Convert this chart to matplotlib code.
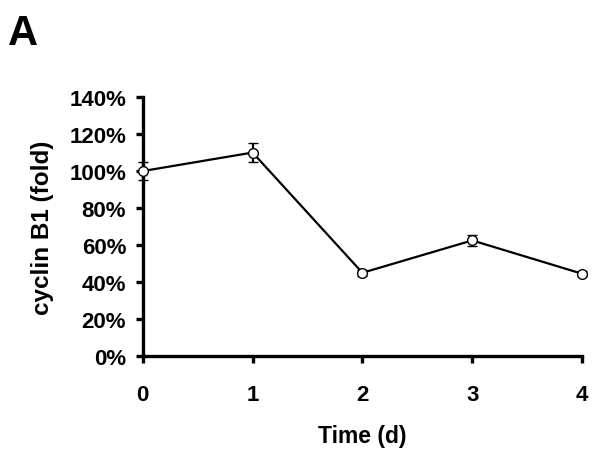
import matplotlib
matplotlib.use("Agg")
import matplotlib.pyplot as plt
from matplotlib.ticker import FuncFormatter

days = [0, 1, 2, 3, 4]
cyclin_b1 = [100, 110, 45, 62.5, 44.5]
errors = [5, 5, 1.5, 3, 1.5]
x_ticks = [0, 1, 2, 3, 4]
y_ticks = [0, 20, 40, 60, 80, 100, 120, 140]

plt.rcParams['font.family'] = ['Liberation Sans', 'DejaVu Sans']
plt.rcParams['font.weight'] = 'bold'

fig = plt.figure(figsize=(6, 4.56), dpi=100)
ax = fig.add_axes([0.238, 0.217, 0.732, 0.568])

ax.errorbar(days, cyclin_b1, yerr=errors, color='black', lw=1.6,
            marker='o', markersize=7, markerfacecolor='white',
            markeredgecolor='black', markeredgewidth=1.0,
            capsize=3.5, capthick=1.6, elinewidth=1.6, clip_on=False, zorder=3)

ax.set_xlim(0, 4)
ax.set_ylim(0, 140)
ax.set_xticks(x_ticks)
ax.set_yticks(y_ticks)
ax.yaxis.set_major_formatter(FuncFormatter(lambda v, p: f"{int(v)}%"))

for s in ['top', 'right']:
    ax.spines[s].set_visible(False)
for s in ['left', 'bottom']:
    ax.spines[s].set_linewidth(2.4)

ax.tick_params(axis='both', direction='out', width=2.4, length=5,
               labelsize=16)
ax.tick_params(axis='y', pad=7)
ax.tick_params(axis='x', pad=15)
for lab in ax.get_xticklabels() + ax.get_yticklabels():
    lab.set_fontweight('bold')

ax.set_xlabel('Time (d)', fontsize=16.5, fontweight='bold', labelpad=14)
ax.set_ylabel('cyclin B1 (fold)', fontsize=17.5, fontweight='bold', labelpad=11)

fig.text(8 / 600, 1 - 45 / 456, 'A', fontsize=30, fontweight='bold',
         ha='left', va='baseline')

fig.savefig('out.png', dpi=100)
